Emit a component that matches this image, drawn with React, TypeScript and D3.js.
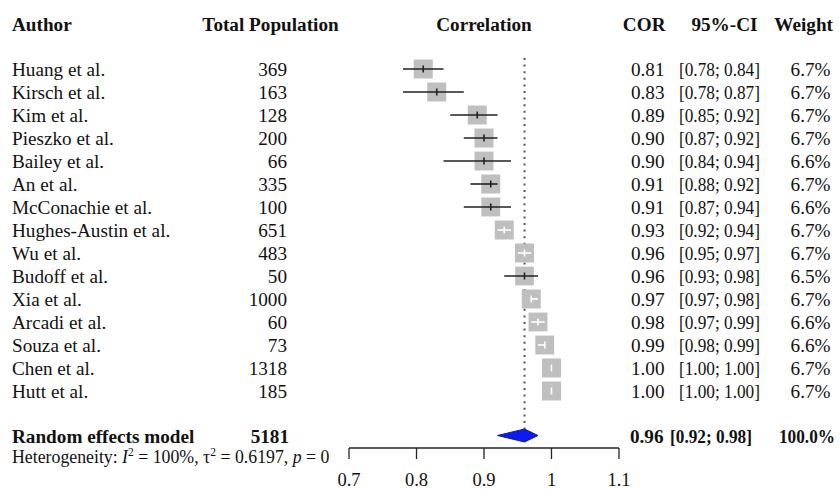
import React from "react";
import * as d3 from "d3";

const authors = [
  "Huang et al.", "Kirsch et al.", "Kim et al.", "Pieszko et al.", "Bailey et al.",
  "An et al.", "McConachie et al.", "Hughes-Austin et al.", "Wu et al.", "Budoff et al.",
  "Xia et al.", "Arcadi et al.", "Souza et al.", "Chen et al.", "Hutt et al.",
];
const population = [369, 163, 128, 200, 66, 335, 100, 651, 483, 50, 1000, 60, 73, 1318, 185];
const cor = [0.81, 0.83, 0.89, 0.90, 0.90, 0.91, 0.91, 0.93, 0.96, 0.96, 0.97, 0.98, 0.99, 1.00, 1.00];
const ciLow = [0.78, 0.78, 0.85, 0.87, 0.84, 0.88, 0.87, 0.92, 0.95, 0.93, 0.97, 0.97, 0.98, 1.00, 1.00];
const ciHigh = [0.84, 0.87, 0.92, 0.92, 0.94, 0.92, 0.94, 0.94, 0.97, 0.98, 0.98, 0.99, 0.99, 1.00, 1.00];
const weights = [6.7, 6.7, 6.7, 6.7, 6.6, 6.7, 6.6, 6.7, 6.7, 6.5, 6.7, 6.6, 6.6, 6.7, 6.7];

const pooledN = 5181;
const pooledCor = 0.96;
const pooledLow = 0.92;
const pooledHigh = 0.98;
const pooledWeight = 100.0;

const axisTicks = [0.7, 0.8, 0.9, 1, 1.1];
const hetI2 = "100%";
const hetTau2 = "0.6197";
const hetP = "0";

const FONT = "'Liberation Serif', 'Times New Roman', serif";
const FS = 19.2;
const INK = "#111";

export default function App() {
  const x = d3.scaleLinear().domain([0.7, 1.1]).range([349, 619]);
  const y = d3.scaleLinear().domain([0, authors.length - 1]).range([69, 391]);
  const ySum = 435.5;
  const f2 = d3.format(".2f");
  const sideScale = d3.scaleSqrt().domain([0, 6.7]).range([0, 19]);

  const headerY = 30.5;
  const dx = x(pooledCor);

  return (
    <svg
      width={840}
      height={489}
      style={{ position: "absolute", left: 0, top: 0, background: "#fff" }}
      fontFamily={FONT}
      fontSize={FS}
      fill={INK}
    >
      <rect x={0} y={0} width={840} height={489} fill="#fff" />
      {/* headers */}
      <g fontWeight="bold">
        <text x={12} y={headerY}>Author</text>
        <text x={270.5} y={headerY} textAnchor="middle">Total Population</text>
        <text x={x(0.9)} y={headerY} textAnchor="middle">Correlation</text>
        <text x={665.5} y={headerY} textAnchor="end">COR</text>
        <text x={757.5} y={headerY} textAnchor="end">95%-CI</text>
        <text x={833} y={headerY} textAnchor="end">Weight</text>
      </g>

      {/* reference dotted line */}
      <line x1={dx} x2={dx} y1={58} y2={429} stroke="#555" strokeWidth={2} strokeDasharray="2,4.6" />

      {/* study rows */}
      {authors.map((a, i) => {
        const cy = y(i);
        const side = sideScale(weights[i]);
        const lo = x(ciLow[i]);
        const hi = x(ciHigh[i]);
        const cx = x(cor[i]);
        const inside = hi - lo < side;
        const lc = inside ? "#fff" : "#222";
        return (
          <g key={a}>
            <text x={12} y={cy + 7}>{a}</text>
            <text x={287} y={cy + 7} textAnchor="end">{population[i]}</text>
            <rect x={cx - side / 2} y={cy - side / 2} width={side} height={side} fill="#bfbfbf" />
            <line x1={lo} x2={hi} y1={cy} y2={cy} stroke={lc} strokeWidth={1.6} />
            <line x1={cx} x2={cx} y1={cy - 3.5} y2={cy + 3.5} stroke={lc} strokeWidth={1.6} />
            <text x={664.5} y={cy + 7} textAnchor="end">{f2(cor[i])}</text>
            <text x={679} y={cy + 7} textLength={81} lengthAdjust="spacingAndGlyphs">{`[${f2(ciLow[i])}; ${f2(ciHigh[i])}]`}</text>
            <text x={830.5} y={cy + 7} textAnchor="end">{`${weights[i].toFixed(1)}%`}</text>
          </g>
        );
      })}

      {/* summary */}
      <g fontWeight="bold">
        <text x={12} y={ySum + 7}>Random effects model</text>
        <text x={289} y={ySum + 7} textAnchor="end">{pooledN}</text>
        <text x={663.5} y={ySum + 7} textAnchor="end">{f2(pooledCor)}</text>
        <text x={670} y={ySum + 7} textLength={82} lengthAdjust="spacingAndGlyphs">{`[${f2(pooledLow)}; ${f2(pooledHigh)}]`}</text>
        <text x={779} y={ySum + 7} textLength={56} lengthAdjust="spacingAndGlyphs">{`${pooledWeight.toFixed(1)}%`}</text>
      </g>
      <polygon
        points={[
          [x(pooledLow), ySum],
          [x(pooledCor), ySum - 6.5],
          [x(pooledHigh), ySum],
          [x(pooledCor), ySum + 6.5],
        ].map((p) => p.join(",")).join(" ")}
        fill="#0a1cf0"
        stroke="#1a1a8a"
        strokeWidth={1}
      />

      {/* heterogeneity */}
      <text x={12} y={462.5} fontSize={17.8}>
        <tspan>Heterogeneity: </tspan>
        <tspan fontStyle="italic">I</tspan>
        <tspan fontSize={11.5} dy={-7}>2</tspan>
        <tspan dy={7}>{` = ${hetI2}, τ`}</tspan>
        <tspan fontSize={11.5} dy={-7}>2</tspan>
        <tspan dy={7}>{` = ${hetTau2}, `}</tspan>
        <tspan fontStyle="italic">p</tspan>
        <tspan>{` = ${hetP}`}</tspan>
      </text>

      {/* axis */}
      <line x1={x(0.7)} x2={x(1.1)} y1={448} y2={448} stroke="#222" strokeWidth={1.3} />
      {axisTicks.map((t) => (
        <g key={t}>
          <line x1={x(t)} x2={x(t)} y1={448} y2={459} stroke="#222" strokeWidth={1.3} />
          <text x={x(t)} y={486} textAnchor="middle" fontSize={18.5}>{d3.format("")(t)}</text>
        </g>
      ))}
    </svg>
  );
}
